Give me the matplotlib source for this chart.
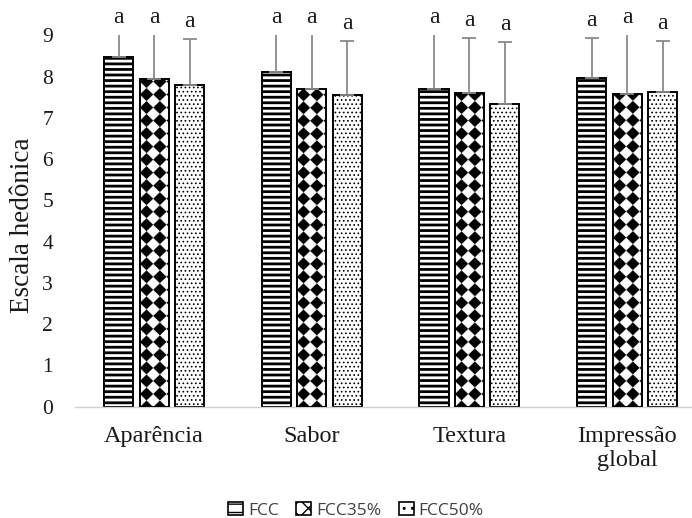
import numpy as np
import matplotlib
matplotlib.use("Agg")
import matplotlib.pyplot as plt
from matplotlib.patches import Rectangle

# Sensory acceptance scores (mean and standard deviation) per attribute
categories = ["Aparência", "Sabor", "Textura", "Impressão\nglobal"]
series = ["FCC", "FCC35%", "FCC50%"]
means_fcc = [8.49, 8.12, 7.71, 7.96]
means_fcc35 = [7.94, 7.70, 7.60, 7.59]
means_fcc50 = [7.79, 7.56, 7.34, 7.64]
sd_fcc = [0.62, 0.97, 1.36, 0.97]
sd_fcc35 = [1.18, 1.38, 1.35, 1.52]
sd_fcc50 = [1.13, 1.31, 1.50, 1.23]
letters_fcc = ["a", "a", "a", "a"]
letters_fcc35 = ["a", "a", "a", "a"]
letters_fcc50 = ["a", "a", "a", "a"]
y_ticks = [0, 1, 2, 3, 4, 5, 6, 7, 8, 9]

W, H, DPI = 692, 518, 100
fig = plt.figure(figsize=(W / DPI, H / DPI), dpi=DPI)
ax = fig.add_axes([0.1087, 0.2149, 0.9116, 0.7166])

XMIN, XMAX, YMIN, YMAX = -0.5, 3.5, 0, 9
ax_w_px = 0.9116 * W
ax_h_px = 0.7166 * H
px_x = (XMAX - XMIN) / ax_w_px   # data units per pixel, x
px_y = (YMAX - YMIN) / ax_h_px   # data units per pixel, y

x = np.arange(len(categories))
bw = 0.184
offs = [-0.225, 0.0, 0.225]
means_all = [means_fcc, means_fcc35, means_fcc50]
sd_all = [sd_fcc, sd_fcc35, sd_fcc50]
letters_all = [letters_fcc, letters_fcc35, letters_fcc50]
SERIF = "Liberation Serif"
INK = "#1a1a1a"


def hatched_bars(xpos, vals, hatch, hlw):
    with plt.rc_context({"hatch.linewidth": hlw, "hatch.color": "black"}):
        bars = ax.bar(xpos, vals, width=bw, facecolor="white", edgecolor="black",
                      linewidth=1.4, hatch=hatch, zorder=2)
    for b in bars:
        try:
            b.set_hatch_linewidth(hlw)
        except AttributeError:
            pass
    return bars


def diamond_bars(xpos, vals):
    bars = ax.bar(xpos, vals, width=bw, facecolor="white", edgecolor="none", zorder=2)
    a = 13.0  # diamond period in pixels
    ss = 4
    for b in bars:
        x0, y0 = b.get_x(), b.get_y()
        w, h = b.get_width(), b.get_height()
        nx = int(np.ceil(w / px_x * ss))
        ny = int(np.ceil(h / px_y * ss))
        gx = (np.arange(nx) + 0.5) / ss
        gy = (np.arange(ny) + 0.5) / ss
        X, Y = np.meshgrid(gx, gy)
        u = np.floor((X + Y) / a)
        v = np.floor((X - Y) / a)
        img = ((u + v) % 2 == 0).astype(float)
        im = ax.imshow(1 - img, cmap="gray", vmin=0, vmax=1, extent=[x0, x0 + w, y0 + h, y0],
                       aspect="auto", interpolation="antialiased", zorder=2.5)
        im.set_clip_path(b)
    ax.bar(xpos, vals, width=bw, fill=False, edgecolor="black", linewidth=1.4, zorder=3)
    return bars


hatched_bars(x + offs[0], means_fcc, "---", 2.0)
diamond_bars(x + offs[1], means_fcc35)
hatched_bars(x + offs[2], means_fcc50, "....", 0.7)

for k in range(3):
    xp = x + offs[k]
    ax.errorbar(xp, means_all[k], yerr=[np.zeros(len(x)), sd_all[k]], fmt="none",
                ecolor="#8a8a8a", elinewidth=1.3, capsize=5, capthick=1.3, zorder=4)
    for i in range(len(x)):
        top = min(means_all[k][i] + sd_all[k][i], YMAX)
        ax.text(xp[i], top + 0.17, letters_all[k][i], ha="center", va="bottom",
                fontsize=17, family=SERIF, clip_on=False, color=INK)

ax.set_xlim(XMIN, XMAX)
ax.set_ylim(YMIN, YMAX)
ax.set_yticks(y_ticks)
ax.set_yticklabels([str(t) for t in y_ticks])
ax.set_xticks(x)
ax.set_xticklabels(categories, linespacing=1.2)
ax.tick_params(axis="y", length=0, pad=16, labelsize=15.5, labelcolor=INK)
ax.tick_params(axis="x", length=0, pad=14, labelsize=17.5, labelcolor=INK)
for lab in ax.get_xticklabels() + ax.get_yticklabels():
    lab.set_family(SERIF)

for s in ["left", "right", "top"]:
    ax.spines[s].set_visible(False)
ax.spines["bottom"].set_color("#d0d0d0")
ax.spines["bottom"].set_linewidth(1.0)

ax.set_ylabel("Escala hedônica", family=SERIF, fontsize=19.5, color=INK)
ax.yaxis.set_label_coords(-0.064, 0.49)

# legend
with plt.rc_context({"hatch.linewidth": 1.5}):
    h1 = Rectangle((0, 0), 1, 1, facecolor="white", edgecolor="black", hatch="--", linewidth=1.2)
    h2 = Rectangle((0, 0), 1, 1, facecolor="white", edgecolor="black", hatch="xx", linewidth=1.2)
    h3 = Rectangle((0, 0), 1, 1, facecolor="white", edgecolor="black", hatch="..", linewidth=1.2)
leg = fig.legend([h1, h2, h3], series, loc="center", bbox_to_anchor=(0.5145, 0.0141),
                 ncol=3, frameon=False, handlelength=0.85, handleheight=0.75,
                 handletextpad=0.3, columnspacing=1.0,
                 prop={"family": "Open Sans", "size": 12.5})
for t in leg.get_texts():
    t.set_color("#404040")

fig.savefig("out.png", dpi=DPI)
